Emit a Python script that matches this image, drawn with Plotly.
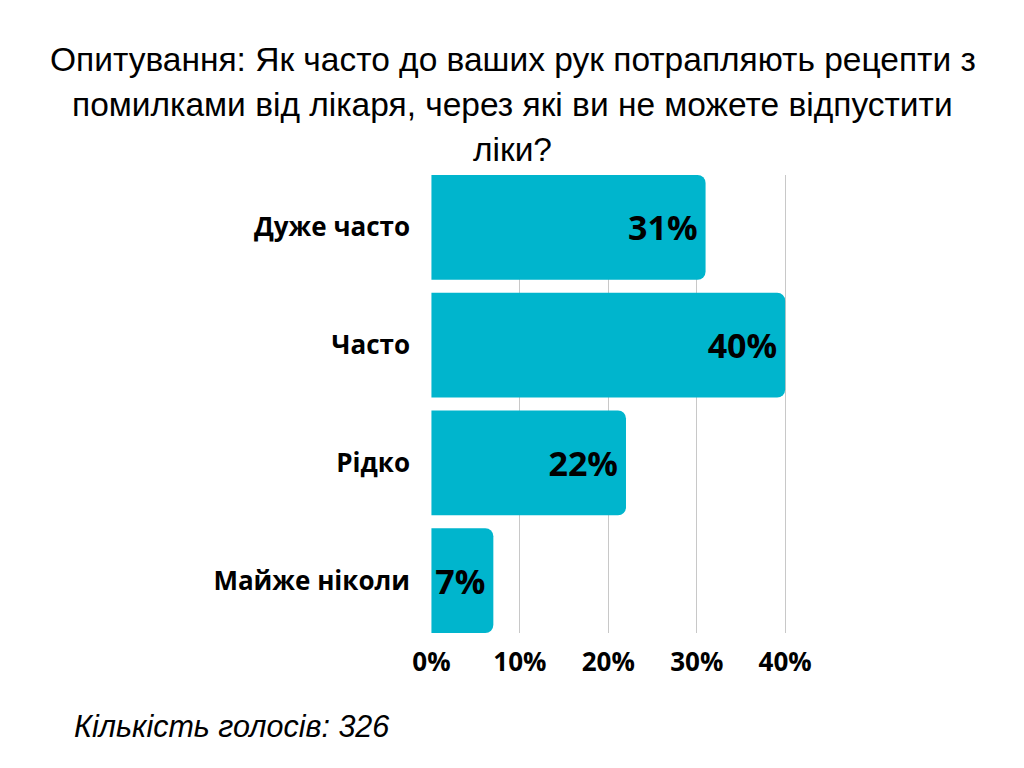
import plotly.graph_objects as go

# Poll data
categories = ['Дуже часто', 'Часто', 'Рідко', 'Майже ніколи']
shares = [31, 40, 22, 7]
x_ticks = [0, 10, 20, 30, 40]
x_tick_labels = ['0%', '10%', '20%', '30%', '40%']
title_lines = [
    'Опитування: Як часто до ваших рук потрапляють рецепти з',
    'помилками від лікаря, через які ви не можете відпустити',
    'ліки?',
]
footer_text = 'Кількість голосів: 326'

bar_color = '#00b5cd'
label_font = 'Open Sans'

fig = go.Figure()

fig.add_trace(go.Bar(
    x=shares,
    y=categories,
    orientation='h',
    marker=dict(color=bar_color, cornerradius=8, line=dict(width=0)),
    text=[f'{v}%' for v in shares],
    textposition='inside',
    insidetextanchor='end',
    textfont=dict(family=label_font, size=34, color='black', weight='bold'),
    hoverinfo='skip',
))

# Title lines placed one by one to get the wide line spacing
for i, line in enumerate(title_lines):
    fig.add_annotation(
        text=line, xref='paper', yref='paper',
        x=0.5, y=1, xshift=-100, yshift=116 - 45 * i,
        xanchor='center', yanchor='middle', showarrow=False,
        font=dict(family='Liberation Sans', size=33.5, color='black'),
    )

fig.add_annotation(
    text=f'<i>{footer_text}</i>', xref='paper', yref='paper',
    x=0, y=0, xshift=-359, yshift=-93,
    xanchor='left', yanchor='middle', showarrow=False,
    font=dict(family='Liberation Sans', size=30.5, color='black'),
)

fig.update_layout(
    width=1024, height=768,
    margin=dict(l=423, r=238, t=167, b=143),
    paper_bgcolor='white', plot_bgcolor='white',
    bargap=0.11,
    showlegend=False,
    uniformtext=dict(mode=False),
)

fig.update_xaxes(
    range=[-0.05, 41],
    tickvals=x_ticks, ticktext=x_tick_labels,
    showgrid=True, gridcolor='#c8c8c8', gridwidth=1,
    zeroline=False, showline=False, ticks='',
    tickfont=dict(family=label_font, size=26, color='black', weight='bold'),
    ticklabelstandoff=11,
)

fig.update_yaxes(
    categoryorder='array', categoryarray=categories,
    range=[3.445, -0.445],
    showgrid=False, zeroline=False, showline=False, ticks='',
    tickfont=dict(family=label_font, size=26, color='black', weight='bold'),
    ticklabelstandoff=20,
)

fig.write_html('out.html')
